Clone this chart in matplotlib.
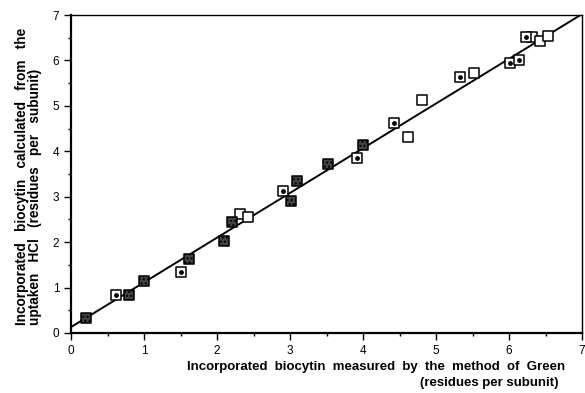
import numpy as np
import matplotlib
matplotlib.use("Agg")
import matplotlib.pyplot as plt

plt.rcParams['font.family'] = ['Liberation Sans', 'DejaVu Sans']

# crossed (hatched) squares
x_cross = [0.20, 0.80, 1.00, 1.62, 2.10, 2.21, 3.02, 3.10, 3.52, 4.00]
y_cross = [0.32, 0.84, 1.14, 1.63, 2.03, 2.45, 2.91, 3.35, 3.73, 4.14]

# squares with a dot
x_dot = [0.61, 1.51, 2.91, 3.92, 4.42, 5.33, 6.02, 6.14, 6.23]
y_dot = [0.84, 1.35, 3.13, 3.85, 4.62, 5.63, 5.94, 6.01, 6.52]

# open squares
x_open = [2.31, 2.43, 4.61, 4.81, 5.52, 6.32, 6.42, 6.54]
y_open = [2.63, 2.55, 4.32, 5.13, 5.73, 6.52, 6.43, 6.54]

# regression line
fit_x = [0.0, 7.0]
fit_y = [0.13, 7.02]

fig = plt.figure(figsize=(5.85, 3.93), dpi=100)
ax = fig.add_axes([0.1214, 0.1527, 0.8735, 0.8091])

ax.plot(fit_x, fit_y, color='black', linewidth=1.4, zorder=2)

ms = 52
ax.scatter(x_open, y_open, marker='s', s=ms, facecolor='white',
           edgecolor='black', linewidth=1.1, zorder=3)
ax.scatter(x_dot, y_dot, marker='s', s=ms, facecolor='white',
           edgecolor='black', linewidth=1.1, zorder=3)
ax.scatter(x_dot, y_dot, marker='o', s=6, color='black', zorder=4)
ax.scatter(x_cross, y_cross, marker='s', s=ms, facecolor='#444444',
           edgecolor='black', linewidth=1.1, hatch='....', zorder=3)

ax.set_xlim(0, 7)
ax.set_ylim(0, 7)
ax.set_xticks(range(8))
ax.set_yticks(range(8))
ax.set_xticks(np.arange(0.5, 7, 1), minor=True)
ax.set_yticks(np.arange(0.5, 7, 1), minor=True)
ax.tick_params(which='major', direction='out', length=5, width=1, labelsize=8.5)
ax.tick_params(which='minor', direction='out', length=2.5, width=1)

for s in ['left', 'bottom']:
    ax.spines[s].set_linewidth(1.6)
for s in ['top', 'right']:
    ax.spines[s].set_linewidth(1.0)

fig.text(0.9658, 0.066, 'Incorporated  biocytin  measured  by  the  method  of  Green',
         ha='right', va='center', fontsize=9.5, fontweight='bold')
fig.text(0.954, 0.0255, '(residues per subunit)',
         ha='right', va='center', fontsize=9.5, fontweight='bold')

fig.text(0.0376, 0.173, 'Incorporated   biocytin   calculated   from   the',
         rotation=90, ha='center', va='bottom', fontsize=9.8, fontweight='bold')
fig.text(0.0598, 0.173, 'uptaken   HCl   (residues   per   subunit)',
         rotation=90, ha='center', va='bottom', fontsize=9.8, fontweight='bold')

fig.savefig('out.png', dpi=100)
